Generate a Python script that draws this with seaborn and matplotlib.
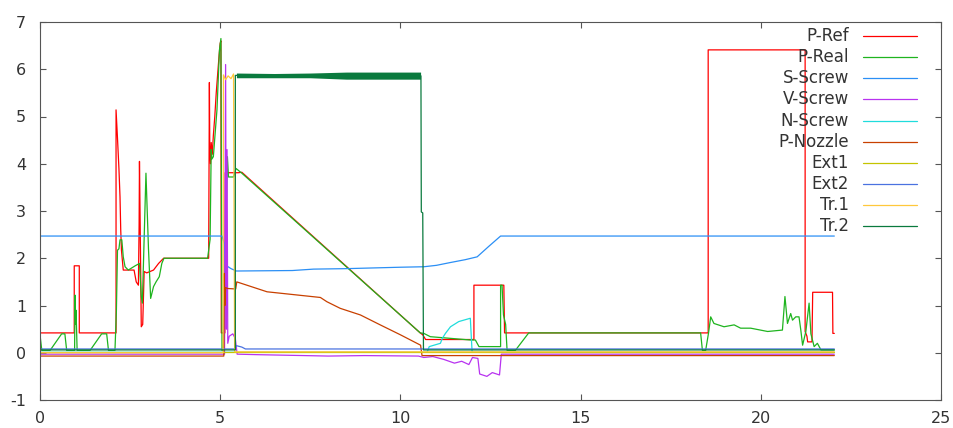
import matplotlib
matplotlib.use("Agg")
import matplotlib.pyplot as plt
import seaborn as sns

# ---- data (time in s, values in V) ----
pref_x = [0.00, 0.95, 0.95, 1.09, 1.09, 2.11, 2.11, 2.15, 2.19, 2.22, 2.24, 2.26, 2.31, 2.61, 2.67,
          2.73, 2.75, 2.76, 2.79, 2.81, 2.85, 2.89, 2.96, 3.15, 3.29, 3.43, 4.68, 4.70, 4.71, 4.73,
          4.75, 4.78, 4.81, 4.85, 4.89, 4.93, 4.97, 5.00, 5.02, 5.03, 5.13, 5.14, 5.50, 5.60, 10.55,
          10.62, 10.70, 12.04, 12.04, 12.87, 12.89, 18.54, 18.54, 21.23, 21.23, 21.28, 21.30, 21.42,
          21.44, 21.99, 22.00, 22.04]
pref_y = [0.42, 0.42, 1.84, 1.84, 0.42, 0.42, 5.14, 4.54, 3.90, 3.30, 2.60, 2.17, 1.75, 1.75, 1.50,
          1.43, 2.70, 4.05, 2.00, 0.55, 0.60, 1.72, 1.69, 1.75, 1.89, 2.00, 2.00, 5.72, 4.40, 4.00,
          4.45, 4.20, 4.60, 5.00, 5.50, 5.90, 6.30, 6.55, 6.60, 0.42, 0.42, 3.81, 3.81, 3.82, 0.42,
          0.38, 0.28, 0.28, 1.43, 1.43, 0.42, 0.42, 6.41, 6.41, 0.45, 0.35, 0.23, 0.23,
          1.28, 1.28, 0.41, 0.41]

preal_x = [0.00, 0.05, 0.28, 0.60, 0.69, 0.74, 0.96, 0.97, 0.99, 1.00, 1.03, 1.39, 1.71, 1.85, 1.90,
           2.08, 2.12, 2.15, 2.19, 2.22, 2.27, 2.31, 2.36, 2.45, 2.64, 2.76, 2.81, 2.84, 2.94, 3.01,
           3.07, 3.15, 3.22, 3.31, 3.38, 3.44, 3.80, 4.20, 4.65, 4.72, 4.75, 4.77, 4.81, 4.91, 4.98,
           5.02, 5.05, 5.09, 5.20, 5.23, 5.37, 5.44, 5.60, 10.55, 10.65, 10.83, 11.94, 12.08, 12.18,
           12.78, 12.78, 12.82, 12.86, 12.92, 12.96, 13.19, 13.56, 18.33, 18.38, 18.47, 18.55, 18.61,
           18.70, 18.98, 19.26, 19.44, 19.72, 20.19, 20.60, 20.67, 20.74, 20.83, 20.88, 20.97, 21.06,
           21.11, 21.16, 21.25, 21.34, 21.39, 21.48, 21.57, 21.67, 22.04]
preal_y = [0.38, 0.05, 0.05, 0.40, 0.40, 0.05, 0.05, 1.22, 0.60, 0.90, 0.05, 0.05, 0.40, 0.40, 0.05,
           0.05, 0.90, 2.17, 2.20, 2.39, 2.39, 2.03, 1.82, 1.75, 1.84, 1.89, 1.19, 1.05, 3.80, 2.20,
           1.15, 1.40, 1.50, 1.61, 1.89, 2.00, 2.00, 2.00, 2.00, 2.40, 4.30, 4.10, 4.15, 5.14, 6.41,
           6.65, 0.05, 0.05, 4.15, 3.72, 3.72, 3.90, 3.80, 0.42, 0.41, 0.34, 0.27, 0.27, 0.13,
           0.13, 1.43, 1.43, 0.80, 0.60, 0.05, 0.05, 0.42, 0.42, 0.05, 0.05, 0.42, 0.76,
           0.62, 0.55, 0.59, 0.52, 0.52, 0.45, 0.48, 1.19, 0.62, 0.83, 0.69, 0.76, 0.76,
           0.48, 0.16, 0.45, 1.05, 0.40, 0.13, 0.20, 0.06, 0.06]

sscrew_x = [0.00, 5.05, 5.12, 5.14, 5.30, 5.45, 7.00, 7.59, 8.50, 10.00, 10.65, 11.00, 11.39, 11.80,
            12.13, 12.45, 12.78, 22.04]
sscrew_y = [2.47, 2.47, 2.30, 1.86, 1.78, 1.73, 1.74, 1.77, 1.78, 1.81, 1.82, 1.85, 1.91, 1.97,
            2.03, 2.25, 2.47, 2.47]

vscrew_x = [0.00, 5.12, 5.15, 5.17, 5.19, 5.21, 5.25, 5.35, 5.42, 5.47, 6.00, 8.00, 9.00, 10.50,
            10.65, 10.90, 11.20, 11.50, 11.70, 11.90, 12.00, 12.15, 12.20, 12.40, 12.55, 12.75,
            12.80, 22.04]
vscrew_y = [-0.03, -0.03, 6.10, 0.50, 4.30, 0.20, 0.35, 0.40, 0.30, -0.03, -0.04, -0.07, -0.06, -0.07,
            -0.10, -0.08, -0.14, -0.22, -0.18, -0.25, -0.10, -0.12, -0.45, -0.50, -0.42, -0.47,
            -0.03, -0.03]

nscrew_x = [0.00, 10.74, 10.80, 11.11, 11.16, 11.25, 11.39, 11.62, 11.94, 11.99, 22.04]
nscrew_y = [0.01, 0.01, 0.13, 0.20, 0.30, 0.41, 0.55, 0.66, 0.73, 0.01, 0.01]

pnozzle_x = [0.00, 5.10, 5.11, 5.13, 5.15, 5.20, 5.43, 5.46, 5.74, 6.30, 6.67, 7.41, 7.78, 7.96,
             8.33, 8.89, 9.44, 10.00, 10.56, 10.60, 22.04]
pnozzle_y = [-0.07, -0.07, 1.68, 1.00, 1.38, 1.36, 1.35, 1.50, 1.43, 1.29, 1.26, 1.20, 1.17, 1.08,
             0.94, 0.80, 0.59, 0.38, 0.16, -0.06, -0.06]

ext1_x = [0.00, 22.04]
ext1_y = [0.02, 0.02]

ext2_x = [0.00, 5.40, 5.45, 5.60, 5.70, 22.04]
ext2_y = [0.08, 0.08, 0.15, 0.12, 0.08, 0.08]

tr1_x = [0.00, 5.08, 5.09, 5.15, 5.22, 5.30, 5.37, 5.40, 22.04]
tr1_y = [0.00, 0.00, 5.88, 5.78, 5.86, 5.80, 5.90, 0.02, 0.02]

tr2_x = [0.00, 5.42, 5.42, 10.57, 10.58, 10.62, 10.64, 22.04]
tr2_y = [0.06, 0.06, 5.87, 5.86, 2.98, 2.96, 0.06, 0.06]
# noisy band of Tr.2 while it is high
tr2_band_x = [5.45, 6.50, 7.50, 8.50, 9.50, 10.56]
tr2_band_hi = [5.92, 5.91, 5.92, 5.94, 5.94, 5.94]
tr2_band_lo = [5.82, 5.82, 5.82, 5.79, 5.79, 5.79]

names = ["P-Ref", "P-Real", "S-Screw", "V-Screw", "N-Screw", "P-Nozzle", "Ext1", "Ext2", "Tr.1", "Tr.2"]
colors = ["#ff0000", "#1fb41f", "#2b8ff5", "#b833f0", "#20dcdc", "#c84000",
          "#c4c400", "#4a72e0", "#ffc83c", "#0a7a3e"]
xs = [pref_x, preal_x, sscrew_x, vscrew_x, nscrew_x, pnozzle_x, ext1_x, ext2_x, tr1_x, tr2_x]
ys = [pref_y, preal_y, sscrew_y, vscrew_y, nscrew_y, pnozzle_y, ext1_y, ext2_y, tr1_y, tr2_y]

sns.set_style("ticks")
plt.rcParams['font.family'] = ['DejaVu Sans']
plt.rcParams['axes.unicode_minus'] = False

fig, ax = plt.subplots(figsize=(9.54, 4.28), dpi=100)
fig.subplots_adjust(left=40 / 954, right=941 / 954, bottom=1 - 400 / 428, top=1 - 22 / 428)

for x, y, c in zip(xs, ys, colors):
    sns.lineplot(x=x, y=y, ax=ax, color=c, linewidth=0.9, estimator=None, sort=False, legend=False)
ax.fill_between(tr2_band_x, tr2_band_lo, tr2_band_hi, color=colors[-1], linewidth=0)

ax.set_xlim(0, 25)
ax.set_ylim(-1, 7)
ax.set_xticks(range(0, 26, 5))
ax.set_yticks(range(-1, 8))
ax.tick_params(direction="in", length=4, width=0.8, top=True, right=True,
               color="#555555", labelsize=11.5, labelcolor="#333333")
ax.tick_params(axis="y", pad=10)
ax.tick_params(axis="x", pad=8)
for sp in ax.spines.values():
    sp.set_color("#555555")
    sp.set_linewidth(0.8)

# gnuplot style key: labels right aligned, line sample on the right
for i, (name, c) in enumerate(zip(names, colors)):
    yk = (400 - (36 + 21.15 * i)) / 378
    ax.text(0.898, yk, name, transform=ax.transAxes, ha="right", va="center",
            fontsize=12, color="#333333")
    ax.plot([0.913, 0.973], [yk, yk], transform=ax.transAxes, color=c, linewidth=0.9)

fig.savefig("out.png", dpi=100)
